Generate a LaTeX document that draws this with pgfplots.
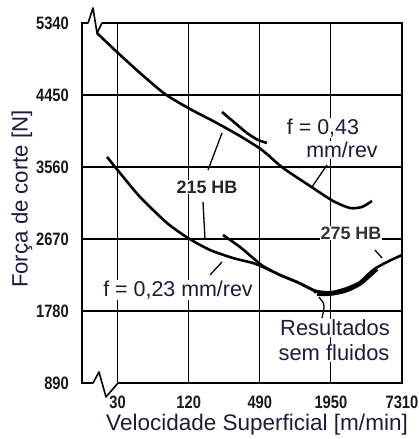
\documentclass[border=0pt]{standalone}
\usepackage{fontspec}
\setmainfont{Liberation Sans}
\newfontfamily\tickfont[FakeStretch=0.82]{Liberation Sans}
\usepackage{pgfplots}
\pgfplotsset{compat=1.18}
\definecolor{txt}{RGB}{30,26,60}
\begin{document}
\begin{tikzpicture}
\begin{axis}[
  scale only axis, width=320bp, height=360bp,
  xmin=0.5, xmax=5, ymin=890, ymax=5340,
  xtick={1,2,3,4,5}, xticklabels={30,120,490,1950,7310},
  ytick={890,1780,2670,3560,4450,5340},
  yticklabels={890,1780,2670,3560,4450,5340},
  major tick length=0pt,
  grid=major, grid style={black, line width=1.1pt},
  axis line style={line width=1.7pt},
  tick label style={font=\tickfont\bfseries\fontsize{18}{18}\selectfont, inner sep=0pt, text=black!90},
  yticklabel style={xshift=-13bp},
  xticklabel style={yshift=-13bp},
  clip=false,
  xlabel={Velocidade Superficial [m/min]},
  ylabel={Força de corte [N]},
  xlabel style={at={(axis description cs:0.547,-0.117)}, anchor=center, font=\fontsize{22.6}{22.6}\selectfont, text=txt},
  ylabel style={at={(axis description cs:-0.1875,0.511)}, anchor=center, font=\fontsize{22.3}{22.3}\selectfont, text=txt},
]
% 215 HB, f = 0,43
\addplot[black, line width=2.6pt, smooth, tension=0.4] coordinates {
 (0.711,5216) (0.992,4981) (1.316,4722) (1.667,4462) (2.019,4277) (2.370,4116)
 (2.722,3943) (3.031,3770) (3.327,3548) (3.706,3325) (4.03,3140) (4.269,3053)
 (4.438,3066) (4.578,3140)};
% 275 HB, f = 0,43
\addplot[black, line width=2.6pt, smooth, tension=0.4] coordinates {
 (2.469,4240) (2.652,4104) (2.82,3980) (2.975,3894) (3.102,3857)};
% 215 HB, f = 0,23
\addplot[black, line width=2.6pt, smooth, tension=0.4] coordinates {
 (0.852,3684) (1.034,3486) (1.316,3189) (1.695,2868) (1.991,2682) (2.3,2534)
 (2.623,2435) (2.905,2373) (3.045,2324) (3.284,2225) (3.523,2138) (3.748,2040)
 (3.791,2002)};
% 275 HB, f = 0,23
\addplot[black, line width=2.6pt, smooth, tension=0.4] coordinates {
 (2.483,2719) (2.722,2571) (2.905,2435) (3.045,2336) (3.284,2225) (3.523,2138)
 (3.748,2040) (3.889,2015) (4.03,2015) (4.227,2064) (4.409,2138) (4.592,2287)
 (4.789,2386) (5.0,2472)};
% sem fluidos
\addplot[black, line width=3.8pt, smooth, tension=0.4] coordinates {
 (3.805,1990) (3.988,1990) (4.198,2027) (4.409,2114) (4.648,2299)};

\node[fill=white, inner sep=1pt, font=\bfseries\fontsize{18}{18}\selectfont, text=black!85] at (axis cs:2.258,3313) {215 HB};
\node[fill=white, inner sep=1pt, font=\bfseries\fontsize{18}{18}\selectfont, text=black!80] at (axis cs:4.283,2744) {275 HB};
\node[fill=white, inner sep=1pt, font=\fontsize{21.5}{21.5}\selectfont, text=txt] at (axis cs:3.889,4042) {f = 0,43};
\node[fill=white, inner sep=1pt, font=\fontsize{21.5}{21.5}\selectfont, text=txt] at (axis cs:4.156,3770) {mm/rev};
\node[fill=white, inner sep=1pt, font=\fontsize{21.5}{21.5}\selectfont, text=txt] at (axis cs:1.85,2040) {f = 0,23 mm/rev};
\node[fill=white, inner sep=1pt, font=\fontsize{22}{22}\selectfont, text=txt] at (axis cs:4.058,1570) {Resultados};
\node[fill=white, inner sep=1pt, font=\fontsize{22}{22}\selectfont, text=txt] at (axis cs:4.044,1261) {sem fluidos};

\draw[black, line width=1.3pt] (axis cs:2.272,3523) -- (axis cs:2.469,3980);
\draw[black, line width=1.3pt] (axis cs:2.202,3127) -- (axis cs:2.23,2658);
\draw[black, line width=1.3pt] (axis cs:3.945,3585) -- (axis cs:3.734,3313);
\draw[black, line width=1.3pt] (axis cs:2.3,2225) -- (axis cs:2.469,2386);
\draw[black, line width=1.3pt] (axis cs:4.62,2534) -- (axis cs:4.719,2435);
\draw[black, line width=1.3pt] (axis cs:3.833,1953) to[out=-60,in=90] (axis cs:3.903,1842) to[out=-90,in=80] (axis cs:3.875,1693);

% axis breaks
\draw[white, line width=3pt] (rel axis cs:0.0188,1) -- (rel axis cs:0.0625,1);
\draw[black, line width=1.6pt, line join=round] (rel axis cs:0,1) -- (rel axis cs:0.0188,1) -- (rel axis cs:0.0344,1.0417) -- (rel axis cs:0.0469,0.9722) -- (rel axis cs:0.0625,1) -- (rel axis cs:0.08,1);
\draw[white, line width=3pt] (rel axis cs:0.0344,0) -- (rel axis cs:0.1125,0);
\draw[black, line width=1.6pt, line join=round] (rel axis cs:0.02,0) -- (rel axis cs:0.0344,0) -- (rel axis cs:0.0531,0.0306) -- (rel axis cs:0.075,-0.0389) -- (rel axis cs:0.1125,0) -- (rel axis cs:0.13,0);
\end{axis}
\pgfresetboundingbox
\path[use as bounding box] ([xshift=-82bp,yshift=-56bp]current axis.south west) rectangle ([xshift=17bp,yshift=23bp]current axis.north east);
\end{tikzpicture}
\end{document}
